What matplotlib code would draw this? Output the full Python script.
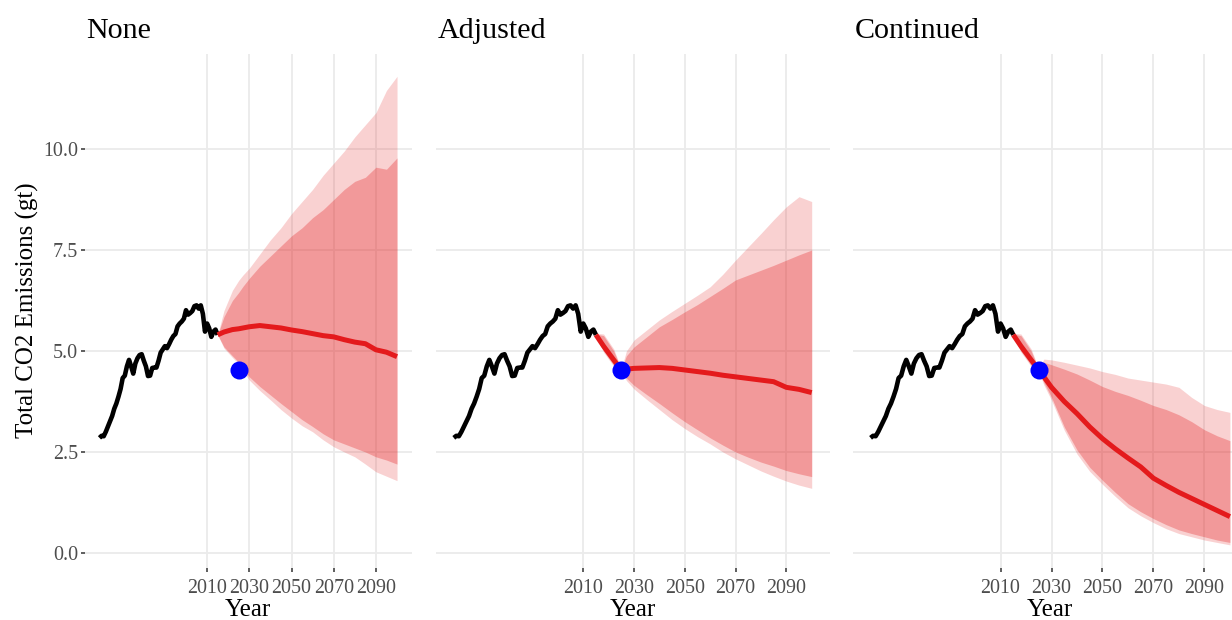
import matplotlib
matplotlib.use("Agg")
import matplotlib.pyplot as plt

plt.rcParams['font.family'] = ['Liberation Serif', 'DejaVu Serif']

# historical emissions (gt), 1959-2015
hist_years = list(range(1959, 2016))
hist_values = [2.85, 2.90, 2.89, 3.00, 3.13, 3.26, 3.39, 3.57, 3.70, 3.87,
               4.06, 4.33, 4.39, 4.62, 4.78, 4.62, 4.44, 4.69, 4.82, 4.90,
               4.92, 4.76, 4.62, 4.38, 4.39, 4.58, 4.59, 4.59, 4.76, 4.96,
               5.04, 5.12, 5.07, 5.17, 5.28, 5.37, 5.42, 5.61, 5.68, 5.73,
               5.80, 6.01, 5.90, 5.94, 5.99, 6.11, 6.13, 6.05, 6.13, 5.92,
               5.48, 5.68, 5.56, 5.35, 5.48, 5.53, 5.40]

fc_years = [2015, 2018, 2022, 2025, 2027, 2030, 2035, 2040, 2045, 2050, 2055,
            2060, 2065, 2070, 2075, 2080, 2085, 2090, 2095, 2100]

# None
none_med = [5.40, 5.47, 5.53, 5.55, 5.57, 5.60, 5.63, 5.60, 5.57, 5.52, 5.48,
            5.43, 5.38, 5.35, 5.28, 5.22, 5.18, 5.03, 4.97, 4.86]
none_hi95 = [5.40, 6.00, 6.50, 6.75, 6.88, 7.05, 7.40, 7.75, 8.05, 8.40, 8.70,
             9.00, 9.35, 9.65, 9.95, 10.30, 10.60, 10.90, 11.45, 11.80]
none_hi80 = [5.40, 5.85, 6.25, 6.45, 6.60, 6.80, 7.10, 7.35, 7.60, 7.85, 8.05,
             8.30, 8.50, 8.75, 9.00, 9.20, 9.30, 9.55, 9.50, 9.78]
none_lo80 = [5.40, 5.10, 4.88, 4.72, 4.56, 4.36, 4.12, 3.91, 3.70, 3.50, 3.30,
             3.13, 2.95, 2.80, 2.70, 2.60, 2.50, 2.38, 2.30, 2.20]
none_lo95 = [5.40, 5.07, 4.84, 4.68, 4.50, 4.28, 4.02, 3.79, 3.55, 3.34, 3.15,
             3.00, 2.80, 2.63, 2.50, 2.38, 2.20, 2.01, 1.90, 1.79]

# Adjusted
adj_med = [5.40, 5.12, 4.78, 4.53, 4.55, 4.57, 4.58, 4.59, 4.57, 4.53, 4.49,
           4.45, 4.40, 4.36, 4.32, 4.28, 4.24, 4.10, 4.05, 3.97]
adj_hi95 = [5.44, 5.42, 5.05, 4.56, 5.00, 5.27, 5.52, 5.77, 5.98, 6.18, 6.38,
            6.59, 6.90, 7.25, 7.58, 7.91, 8.25, 8.57, 8.82, 8.70]
adj_hi80 = [5.42, 5.38, 5.00, 4.55, 4.88, 5.10, 5.35, 5.60, 5.78, 5.97, 6.15,
            6.35, 6.55, 6.76, 6.88, 7.00, 7.12, 7.25, 7.38, 7.50]
adj_lo80 = [5.38, 5.00, 4.65, 4.52, 4.33, 4.15, 3.92, 3.70, 3.47, 3.25, 3.05,
            2.85, 2.67, 2.50, 2.37, 2.25, 2.15, 2.04, 1.96, 1.89]
adj_lo95 = [5.36, 4.97, 4.62, 4.50, 4.27, 4.06, 3.80, 3.55, 3.30, 3.08, 2.88,
            2.70, 2.50, 2.33, 2.18, 2.03, 1.90, 1.78, 1.68, 1.60]

# Continued
cont_med = [5.40, 5.12, 4.78, 4.53, 4.36, 4.10, 3.75, 3.45, 3.12, 2.83, 2.58,
            2.35, 2.13, 1.85, 1.67, 1.50, 1.35, 1.20, 1.05, 0.90]
cont_hi95 = [5.44, 5.42, 5.05, 4.56, 4.80, 4.78, 4.72, 4.65, 4.58, 4.49, 4.42,
             4.33, 4.28, 4.23, 4.18, 4.10, 3.85, 3.65, 3.55, 3.48]
cont_hi80 = [5.42, 5.38, 5.00, 4.55, 4.72, 4.66, 4.55, 4.43, 4.28, 4.12, 4.00,
             3.90, 3.78, 3.65, 3.55, 3.42, 3.25, 3.05, 2.90, 2.78]
cont_lo80 = [5.38, 5.00, 4.65, 4.50, 4.22, 3.85, 3.12, 2.55, 2.12, 1.80, 1.50,
             1.22, 1.02, 0.85, 0.70, 0.57, 0.48, 0.40, 0.32, 0.26]
cont_lo95 = [5.36, 4.97, 4.62, 4.48, 4.16, 3.78, 3.04, 2.45, 2.02, 1.70, 1.40,
             1.12, 0.92, 0.75, 0.60, 0.48, 0.40, 0.32, 0.26, 0.20]

target_year = 2025
target_value = 4.53

panel_titles = ["None", "Adjusted", "Continued"]
x_breaks = [2010, 2030, 2050, 2070, 2090]
y_breaks = [0.0, 2.5, 5.0, 7.5, 10.0]
y_labels = ["0.0", "2.5", "5.0", "7.5", "10.0"]

panels = [
    (none_med, none_lo95, none_hi95, none_lo80, none_hi80),
    (adj_med, adj_lo95, adj_hi95, adj_lo80, adj_hi80),
    (cont_med, cont_lo95, cont_hi95, cont_lo80, cont_hi80),
]

W, H = 1232, 620
fig = plt.figure(figsize=(W / 100, H / 100), dpi=100)

# panel extents in pixels (left, right)
boxes = [(84.6, 411.9), (435.9, 829.6), (852.6, 1247.9)]
bottom, top = 52.5, 566.3

red = '#E41A1C'
grid_col = '#EBEBEB'

for i, (title, (med, lo95, hi95, lo80, hi80)) in enumerate(zip(panel_titles, panels)):
    x0, x1 = boxes[i]
    ax = fig.add_axes([x0 / W, bottom / H, (x1 - x0) / W, (top - bottom) / H])
    ax.set_axisbelow(True)
    ax.grid(True, color=grid_col, lw=1.3)

    ax.fill_between(fc_years, lo95, hi95, color=red, alpha=0.2, lw=0)
    ax.fill_between(fc_years, lo80, hi80, color=red, alpha=0.3, lw=0)
    ax.plot(hist_years, hist_values, color='black', lw=3.3, solid_capstyle='butt')
    ax.plot(fc_years, med, color=red, lw=3.6, solid_capstyle='butt')
    ax.plot([target_year], [target_value], 'o', color='#0000FF', ms=13, mew=0)

    ax.set_xlim(1951.95, 2107.05)
    ax.set_ylim(-0.36, 12.36)
    ax.set_xticks(x_breaks)
    ax.set_xticklabels([str(y) for y in x_breaks])
    ax.set_yticks(y_breaks)
    for s in ax.spines.values():
        s.set_visible(False)
    ax.tick_params(axis='both', colors='#333333', length=3.2, width=1.1,
                   labelsize=14.4, labelcolor='#4D4D4D', pad=1.5)
    ax.tick_params(axis='x', pad=5)
    if i == 0:
        ax.set_yticklabels(y_labels)
        ax.set_ylabel("Total CO2 Emissions (gt)", fontsize=18, labelpad=3)
    else:
        ax.tick_params(axis='y', left=False, labelleft=False)
    ax.set_xlabel("Year", fontsize=18, labelpad=0.5)

    fig.text((x0 + 2) / W, 1 - 38 / H, title, fontsize=21.6, va='baseline', ha='left')

fig.savefig('out.png', dpi=100)
